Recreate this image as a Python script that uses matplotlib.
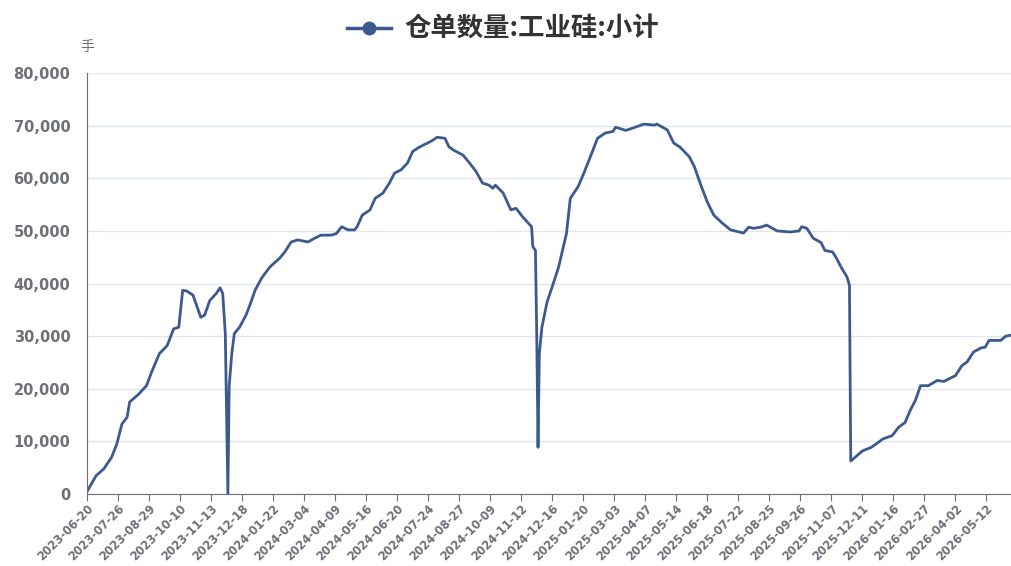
import matplotlib
matplotlib.use("Agg")
import matplotlib.pyplot as plt
from matplotlib.lines import Line2D

plt.rcParams['font.family'] = ['Noto Sans CJK SC', 'DejaVu Sans']

# trading-day position (category index) and warehouse receipt count
day_idx = [0, 7, 13, 19, 23, 27, 31, 33, 40, 46, 50, 56, 62, 67, 71, 74, 77, 82,
           88, 91, 95, 100, 103, 105, 107, 108, 109, 110, 112, 114, 118, 123, 126,
           130, 135, 141, 143, 149, 153, 158, 163, 171, 176, 181, 189, 193, 197,
           202, 207, 209, 213, 219, 223, 229, 234, 238, 243, 248, 252, 257, 261,
           266, 271, 277, 280, 284, 291, 296, 301, 306, 311, 314, 316, 322, 328,
           332, 337, 344, 345, 347, 348, 349, 350, 352, 356, 360, 365, 371, 374,
           380, 385, 390, 395, 401, 407, 409, 417, 423, 431, 439, 441, 449, 454,
           459, 466, 470, 475, 480, 485, 492, 498, 508, 512, 516, 521, 526, 534,
           544, 551, 553, 557, 562, 568, 571, 577, 580, 584, 588, 590, 591, 593,
           600, 607, 616, 623, 628, 633, 637, 641, 645, 651, 658, 663, 667, 672,
           677, 681, 686, 692, 695, 698, 707, 711, 715]
stock = [500, 3500, 4800, 7000, 9500, 13300, 14600, 17500, 19000, 20600, 23200,
         26700, 28200, 31400, 31700, 38700, 38600, 37800, 33600, 34000, 36800,
         38100, 39200, 38100, 30500, 15000, 0, 20500, 26700, 30500, 31700, 34000,
         35900, 38700, 41000, 43000, 43500, 44800, 46000, 47900, 48300, 47900,
         48600, 49200, 49200, 49500, 50800, 50200, 50200, 50800, 53000, 54000,
         56200, 57200, 59100, 61000, 61600, 62900, 65100, 65900, 66400, 67000,
         67800, 67600, 66000, 65300, 64400, 62900, 61300, 59100, 58700, 58100,
         58700, 57200, 54000, 54300, 52700, 50800, 47000, 46300, 30500, 8900,
         26700, 31700, 36500, 39400, 43200, 49500, 56200, 58400, 61300, 64400,
         67600, 68600, 68900, 69700, 69100, 69600, 70300, 70100, 70300, 69200,
         66700, 65900, 64100, 62200, 58700, 55500, 53000, 51400, 50200, 49600,
         50700, 50500, 50700, 51100, 50000, 49800, 50000, 50800, 50500, 48600,
         47800, 46300, 46000, 44800, 42900, 41300, 39700, 6300, 6700, 8200, 8900,
         10500, 11100, 12700, 13600, 15900, 17800, 20600, 20600, 21600, 21400,
         21900, 22500, 24400, 25100, 27000, 27800, 27900, 29200, 29200, 30000,
         30200]

n_days = 716
tick_labels = ["2023-06-20", "2023-07-26", "2023-08-29", "2023-10-10", "2023-11-13",
               "2023-12-18", "2024-01-22", "2024-03-04", "2024-04-09", "2024-05-16",
               "2024-06-20", "2024-07-24", "2024-08-27", "2024-10-09", "2024-11-12",
               "2024-12-16", "2025-01-20", "2025-03-03", "2025-04-07", "2025-05-14",
               "2025-06-18", "2025-07-22", "2025-08-25", "2025-09-26", "2025-11-07",
               "2025-12-11", "2026-01-16", "2026-02-27", "2026-04-02", "2026-05-12"]
tick_step = 24

line_color = "#3d5a8e"
text_gray = "#6e7079"

fig = plt.figure(figsize=(10.12, 5.66), dpi=100)
ax = fig.add_axes([0.086, 0.127, 0.913, 0.744])

ax.plot(day_idx, stock, color=line_color, lw=2)

ax.set_xlim(0, n_days - 1)
ax.set_ylim(0, 80000)
ax.set_yticks(range(0, 80001, 10000))
ax.set_yticklabels([f"{v:,}" for v in range(0, 80001, 10000)],
                   fontsize=10.5, fontweight='bold', color=text_gray,
                   family='DejaVu Sans')
ax.tick_params(axis='y', length=0, pad=12)

ticks = [i * tick_step for i in range(len(tick_labels))]
ax.set_xticks(ticks)
ax.set_xticklabels(tick_labels, rotation=45, ha='right', rotation_mode='anchor',
                   fontsize=8.3, fontweight='bold', color=text_gray,
                   family='DejaVu Sans')
ax.tick_params(axis='x', length=5, color=text_gray, pad=1)

ax.grid(axis='y', color='#e0e6f1', lw=1)
ax.set_axisbelow(True)
for s in ['top', 'right']:
    ax.spines[s].set_visible(False)
ax.spines['left'].set_color(text_gray)
ax.spines['bottom'].set_color(text_gray)

ax.text(0.0, 1.045, "手", transform=ax.transAxes, fontsize=10,
        color=text_gray, ha='center', va='bottom')

handle = Line2D([], [], color=line_color, lw=2.5, marker='o', markersize=9)
fig.legend([handle], ["仓单数量:工业硅:小计"], loc='upper center',
           bbox_to_anchor=(0.497, 1.014), frameon=False, handlelength=1.7,
           handletextpad=0.5, prop={'size': 19, 'weight': 'bold'},
           labelcolor='#333333')

fig.savefig("out.png", dpi=100)
